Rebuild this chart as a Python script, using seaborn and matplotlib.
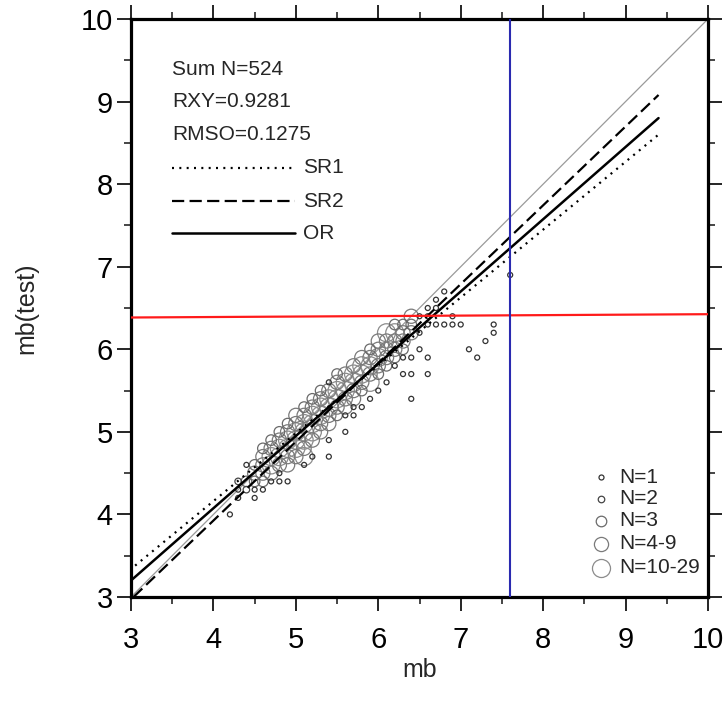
import matplotlib
matplotlib.use("Agg")
import matplotlib.pyplot as plt
from matplotlib.ticker import MultipleLocator
import numpy as np
import pandas as pd
import seaborn as sns

# ---------------- data ----------------
MB = [4.2, 4.3, 4.3, 4.3, 4.4, 4.4, 4.4,
      4.5, 4.5, 4.5, 4.5, 4.5,
      4.6, 4.6, 4.6, 4.6, 4.6, 4.6,
      4.7, 4.7, 4.7, 4.7, 4.7, 4.7,
      4.8, 4.8, 4.8, 4.8, 4.8, 4.8, 4.8,
      4.9, 4.9, 4.9, 4.9, 4.9, 4.9, 4.9,
      5.0, 5.0, 5.0, 5.0, 5.0, 5.0,
      5.1, 5.1, 5.1, 5.1, 5.1, 5.1, 5.1, 5.1,
      5.2, 5.2, 5.2, 5.2, 5.2, 5.2, 5.2,
      5.3, 5.3, 5.3, 5.3, 5.3, 5.3,
      5.4, 5.4, 5.4, 5.4, 5.4, 5.4, 5.4, 5.4,
      5.5, 5.5, 5.5, 5.5, 5.5, 5.5,
      5.6, 5.6, 5.6, 5.6, 5.6, 5.6, 5.6,
      5.7, 5.7, 5.7, 5.7, 5.7, 5.7, 5.7,
      5.8, 5.8, 5.8, 5.8, 5.8, 5.8,
      5.9, 5.9, 5.9, 5.9, 5.9, 5.9,
      6.0, 6.0, 6.0, 6.0, 6.0, 6.0,
      6.1, 6.1, 6.1, 6.1, 6.1, 6.1,
      6.2, 6.2, 6.2, 6.2, 6.2, 6.2,
      6.3, 6.3, 6.3, 6.3, 6.3, 6.3,
      6.4, 6.4, 6.4, 6.4, 6.4, 6.4,
      6.5, 6.5, 6.5,
      6.6, 6.6, 6.6, 6.6, 6.6,
      6.7, 6.7, 6.7,
      6.8, 6.8,
      6.9, 6.9,
      7.0, 7.1, 7.2, 7.3, 7.4, 7.4, 7.6]
MB_TEST = [4.0, 4.2, 4.3, 4.4, 4.3, 4.4, 4.6,
           4.2, 4.3, 4.4, 4.5, 4.6,
           4.3, 4.4, 4.5, 4.6, 4.7, 4.8,
           4.4, 4.5, 4.6, 4.7, 4.8, 4.9,
           4.4, 4.5, 4.6, 4.7, 4.8, 4.9, 5.0,
           4.4, 4.6, 4.7, 4.8, 4.9, 5.0, 5.1,
           4.7, 4.8, 4.9, 5.0, 5.1, 5.2,
           4.6, 4.7, 4.8, 4.9, 5.0, 5.1, 5.2, 5.3,
           4.7, 4.9, 5.0, 5.1, 5.2, 5.3, 5.4,
           5.0, 5.1, 5.2, 5.3, 5.4, 5.5,
           4.7, 4.9, 5.1, 5.2, 5.3, 5.4, 5.5, 5.6,
           5.2, 5.3, 5.4, 5.5, 5.6, 5.7,
           5.0, 5.2, 5.3, 5.4, 5.5, 5.6, 5.7,
           5.2, 5.3, 5.4, 5.5, 5.6, 5.7, 5.8,
           5.3, 5.5, 5.6, 5.7, 5.8, 5.9,
           5.4, 5.6, 5.7, 5.8, 5.9, 6.0,
           5.5, 5.7, 5.8, 5.9, 6.0, 6.1,
           5.6, 5.8, 5.9, 6.0, 6.1, 6.2,
           5.8, 5.9, 6.0, 6.1, 6.2, 6.3,
           5.7, 5.9, 6.0, 6.1, 6.2, 6.3,
           5.4, 5.7, 5.9, 6.2, 6.3, 6.4,
           6.0, 6.2, 6.4,
           5.7, 5.9, 6.3, 6.4, 6.5,
           6.3, 6.5, 6.6,
           6.3, 6.7,
           6.3, 6.4,
           6.3, 6.0, 5.9, 6.1, 6.2, 6.3, 6.9]
COUNT = [1, 1, 1, 2, 2, 3, 1,
         1, 1, 3, 4, 3,
         1, 3, 5, 6, 4, 3,
         1, 4, 10, 12, 6, 3,
         1, 1, 6, 14, 11, 5, 3,
         1, 4, 8, 16, 12, 6, 3,
         4, 10, 17, 13, 6, 4,
         1, 10, 5, 11, 14, 10, 5, 3,
         1, 4, 10, 12, 10, 5, 3,
         4, 9, 12, 10, 5, 3,
         1, 1, 4, 8, 11, 10, 5, 1,
         3, 8, 10, 10, 5, 3,
         1, 1, 4, 7, 10, 10, 4,
         1, 1, 4, 6, 10, 10, 4,
         1, 3, 5, 10, 10, 4,
         1, 10, 5, 10, 6, 3,
         1, 3, 5, 10, 6, 4,
         1, 3, 5, 6, 5, 10,
         1, 3, 4, 6, 10, 3,
         1, 1, 3, 5, 4, 3,
         1, 1, 1, 5, 3, 4,
         1, 1, 1,
         1, 1, 1, 1, 1,
         1, 1, 1,
         1, 1,
         1, 1,
         1, 1, 1, 1, 1, 1, 1]

SIZE_LABELS = ["N=1", "N=2", "N=3", "N=4-9", "N=10-29"]
STATS_TEXT = ["Sum N=524", "RXY=0.9281", "RMSO=0.1275"]
LINE_LABELS = ["SR1", "SR2", "OR"]

SR1_X = [3.05, 9.4]
SR1_Y = [3.38, 8.6]
SR2_X = [3.03, 9.4]
SR2_Y = [3.0, 9.08]
OR_X = [3.0, 9.4]
OR_Y = [3.2, 8.8]
ONE_X = [3.0, 10.0]
ONE_Y = [3.0, 10.0]
RED_X = [3.0, 10.0]
RED_Y = [6.385, 6.425]
BLUE_X = [7.6, 7.6]
BLUE_Y = [3.0, 10.0]

X_TICKS = [3, 4, 5, 6, 7, 8, 9, 10]
Y_TICKS = [3, 4, 5, 6, 7, 8, 9, 10]

# ---------------- style ----------------
sns.set_style("white")
plt.rcParams['font.family'] = ['Liberation Sans', 'DejaVu Sans']

CLASS_SIZE_PT = [3.6, 4.7, 7.6, 10.2, 13.0]     # marker diameters in points
CLASS_COLOR = ['#333333', '#444444', '#6a6a6a', '#7a7a7a', '#8c8c8c']


def size_class(n):
    if n == 1:
        return 0
    if n == 2:
        return 1
    if n == 3:
        return 2
    if n <= 9:
        return 3
    return 4


df = pd.DataFrame({"mb": MB, "mb_test": MB_TEST, "n": COUNT})
df["cls"] = [size_class(n) for n in df["n"]]

fig = plt.figure(figsize=(7.25, 7.11), dpi=100)
ax = fig.add_axes([131 / 725, (711 - 597) / 711, 577 / 725, 578 / 711])

# 1:1 reference line
sns.lineplot(x=ONE_X, y=ONE_Y, ax=ax, color='#9a9a9a', lw=0.9,
             estimator=None, sort=False, zorder=1)

# scatter, drawn from the largest class to the smallest
for cls in [4, 3, 2, 1, 0]:
    sub = df[df["cls"] == cls]
    if len(sub) == 0:
        continue
    sns.scatterplot(data=sub, x="mb", y="mb_test", ax=ax,
                    s=CLASS_SIZE_PT[cls] ** 2, marker='o',
                    facecolor='none', edgecolor=CLASS_COLOR[cls],
                    linewidth=0.9, zorder=2, legend=False)

# regression lines
sns.lineplot(x=SR1_X, y=SR1_Y, ax=ax, color='black', lw=1.6,
             linestyle=(0, (0.9, 2.4)), estimator=None, sort=False, zorder=3)
sns.lineplot(x=SR2_X, y=SR2_Y, ax=ax, color='black', lw=1.6,
             linestyle=(0, (5.5, 2.4)), estimator=None, sort=False, zorder=3)
sns.lineplot(x=OR_X, y=OR_Y, ax=ax, color='black', lw=1.8,
             estimator=None, sort=False, zorder=3)

# red / blue reference lines
sns.lineplot(x=RED_X, y=RED_Y, ax=ax, color='#ff1a1a', lw=1.6,
             estimator=None, sort=False, zorder=4)
sns.lineplot(x=BLUE_X, y=BLUE_Y, ax=ax, color='#2a2ab0', lw=1.5,
             estimator=None, sort=False, zorder=4)

ax.set_xlim(3, 10)
ax.set_ylim(3, 10)
ax.set_xticks(X_TICKS)
ax.set_yticks(Y_TICKS)
ax.xaxis.set_minor_locator(MultipleLocator(0.5))
ax.yaxis.set_minor_locator(MultipleLocator(0.5))
ax.tick_params(which='major', direction='out', length=10, width=1.2,
               top=True, right=True, bottom=True, left=True,
               labelsize=21, colors='black')
ax.tick_params(which='minor', direction='out', length=5, width=1.2,
               top=True, right=True, bottom=True, left=True)
ax.tick_params(axis='x', which='major', pad=11)
ax.tick_params(axis='y', which='major', pad=3)
for sp in ax.spines.values():
    sp.set_linewidth(2.3)
    sp.set_color('black')
    sp.set_visible(True)

ax.set_xlabel("mb", fontsize=18)
ax.set_ylabel("mb(test)", fontsize=18)
ax.xaxis.set_label_coords(0.5, -0.105)
ax.yaxis.set_label_coords(-0.16, 0.5)

# statistics text + line legend (top left)
tx = 0.071
for txt, yy in zip(STATS_TEXT, [0.912, 0.857, 0.801]):
    ax.text(tx, yy, txt, transform=ax.transAxes, fontsize=15,
            va='center', ha='left')
line_styles = [dict(linestyle=(0, (0.9, 2.4)), lw=1.6),
               dict(linestyle=(0, (5.5, 2.4)), lw=1.6),
               dict(linestyle='-', lw=1.8)]
for lab, yy, st in zip(LINE_LABELS, [0.743, 0.685, 0.629], line_styles):
    ax.plot([tx, 0.284], [yy, yy], transform=ax.transAxes, color='black', **st)
    ax.text(0.298, yy, lab, transform=ax.transAxes, fontsize=15,
            va='center', ha='left')

# size legend (bottom right)
for cls, (lab, yy) in enumerate(zip(SIZE_LABELS,
                                    [0.2076, 0.1696, 0.1315, 0.0917, 0.0502])):
    ax.plot([0.8146], [yy], transform=ax.transAxes, marker='o', linestyle='',
            markersize=CLASS_SIZE_PT[cls], markerfacecolor='none',
            markeredgecolor=CLASS_COLOR[cls], markeredgewidth=0.9)
    ax.text(0.846, yy, lab, transform=ax.transAxes, fontsize=15,
            va='center', ha='left')

fig.savefig("out.png", dpi=100)
